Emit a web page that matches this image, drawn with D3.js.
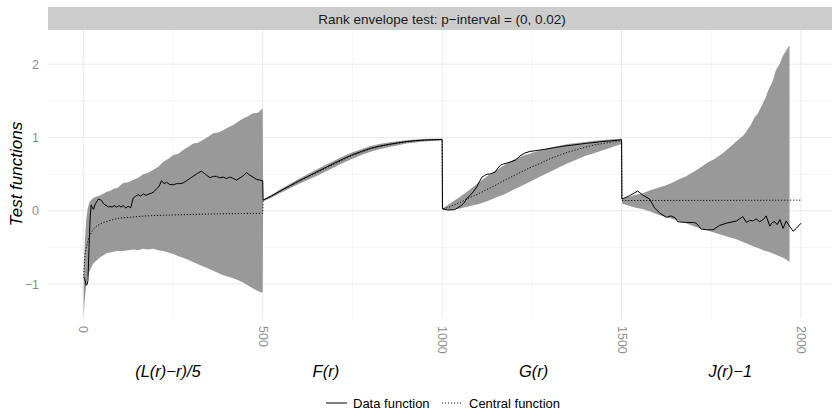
<!DOCTYPE html>
<html>
<head>
<meta charset="utf-8">
<script src="https://cdn.jsdelivr.net/npm/d3@7"></script>
<style>
  html, body { margin: 0; padding: 0; background: #ffffff; }
  svg { display: block; font-family: "Liberation Sans", Arial, Helvetica, sans-serif; }
</style>
</head>
<body>
<svg id="chart" width="832" height="409"></svg>
<script>
// ---------------- DATA ----------------
const stripTitle = "Rank envelope test: p\u2212interval = (0, 0.02)";
const yTitle = "Test functions";
const yTicks = [-1, 0, 1, 2];
const yTickLabels = ["\u22121", "0", "1", "2"];
const xTicks = [0, 500, 1000, 1500, 2000];
const xTickLabels = ["0", "500", "1000", "1500", "2000"];
const functionNames = ["(L(r)\u2212r)/5", "F(r)", "G(r)", "J(r)\u22121"];
const legendNames = ["Data function", "Central function"];

// (L(r)-r)/5 segment, r index 1..500
const lR     = [1,4,8,12,16,20,25,30,37,45,55,65,75,84,95,111,125,139,153,167,181,195,209,223,237,251,265,278,292,306,320,334,348,362,376,390,404,418,432,445,459,473,487,500];
const lUpper = [-0.88,-0.45,-0.12,0.02,0.10,0.14,0.16,0.18,0.195,0.21,0.23,0.26,0.27,0.30,0.31,0.38,0.39,0.42,0.45,0.50,0.52,0.56,0.60,0.67,0.71,0.76,0.78,0.83,0.87,0.92,0.93,0.97,1.01,1.06,1.07,1.10,1.14,1.17,1.22,1.26,1.29,1.33,1.34,1.40];
const lLower = [-1.45,-1.22,-1.02,-0.90,-0.84,-0.80,-0.74,-0.71,-0.68,-0.64,-0.61,-0.58,-0.57,-0.56,-0.55,-0.55,-0.54,-0.53,-0.54,-0.52,-0.53,-0.52,-0.54,-0.55,-0.57,-0.59,-0.62,-0.64,-0.67,-0.70,-0.73,-0.76,-0.79,-0.82,-0.85,-0.88,-0.90,-0.92,-0.95,-0.98,-1.02,-1.06,-1.10,-1.12];
const lCentral = [[1,-0.88],[3,-0.7],[6,-0.55],[11,-0.45],[16,-0.36],[22,-0.30],[28,-0.25],[40,-0.2],[55,-0.16],[70,-0.14],[84,-0.12],[100,-0.10],[139,-0.085],[176,-0.07],[230,-0.06],[300,-0.05],[400,-0.04],[500,-0.035]];
const lData = [[1,-0.9],[4,-0.93],[8,-1.02],[11,-1.0],[13,-0.95],[16,-0.5],[19,-0.1],[22,0.08],[26,0.03],[29,0.02],[32,0.08],[37,0.12],[42,0.16],[47,0.15],[51,0.14],[56,0.1],[60,0.08],[66,0.07],[70,0.05],[74,0.06],[80,0.05],[86,0.07],[93,0.05],[100,0.07],[105,0.05],[111,0.07],[118,0.04],[125,0.06],[132,0.04],[139,0.17],[146,0.2],[153,0.22],[160,0.2],[167,0.23],[175,0.21],[183,0.23],[190,0.24],[197,0.26],[204,0.30],[211,0.33],[218,0.41],[225,0.37],[232,0.39],[240,0.36],[251,0.355],[260,0.37],[269,0.37],[278,0.38],[288,0.41],[297,0.44],[306,0.47],[318,0.51],[329,0.54],[340,0.5],[353,0.45],[362,0.47],[371,0.47],[380,0.45],[390,0.46],[399,0.44],[408,0.46],[418,0.44],[427,0.42],[437,0.45],[446,0.48],[455,0.52],[463,0.49],[473,0.46],[482,0.43],[491,0.42],[500,0.41]];

// F(r) segment, r index 501..1000
const fR       = [501,525,550,575,600,625,650,675,700,725,750,775,800,825,850,875,900,925,950,975,1000];
const fCentral = [0.14,0.20,0.27,0.335,0.40,0.46,0.52,0.58,0.64,0.70,0.755,0.80,0.845,0.875,0.90,0.92,0.94,0.953,0.963,0.968,0.972];
const fUpper   = [0.15,0.22,0.295,0.365,0.435,0.50,0.565,0.625,0.685,0.745,0.80,0.84,0.885,0.91,0.933,0.948,0.962,0.974,0.979,0.983,0.984];
const fLower   = [0.13,0.18,0.245,0.305,0.365,0.42,0.475,0.535,0.595,0.655,0.71,0.76,0.805,0.84,0.867,0.892,0.918,0.932,0.946,0.952,0.958];
const fData    = [0.145,0.205,0.275,0.34,0.405,0.468,0.528,0.59,0.65,0.71,0.765,0.81,0.853,0.882,0.906,0.926,0.945,0.957,0.966,0.971,0.975];

// G(r) segment, r index 1001..1500
const gR       = [1001,1025,1050,1075,1100,1125,1150,1175,1200,1225,1250,1275,1300,1325,1350,1375,1400,1425,1450,1475,1500];
const gCentral = [0.02,0.06,0.115,0.175,0.23,0.29,0.35,0.42,0.48,0.54,0.60,0.65,0.71,0.755,0.80,0.835,0.87,0.90,0.92,0.94,0.955];
const gUpper   = [0.03,0.11,0.19,0.28,0.38,0.47,0.55,0.63,0.70,0.75,0.79,0.83,0.86,0.885,0.91,0.925,0.94,0.955,0.965,0.975,0.985];
const gLower   = [0.01,0.015,0.03,0.06,0.09,0.13,0.18,0.23,0.29,0.35,0.41,0.47,0.53,0.59,0.65,0.70,0.75,0.79,0.83,0.87,0.91];
const gData = [[1001,0.03],[1015,0.01],[1035,0.015],[1050,0.06],[1060,0.10],[1069,0.17],[1078,0.21],[1087,0.26],[1097,0.33],[1104,0.40],[1111,0.46],[1118,0.48],[1125,0.50],[1132,0.50],[1138,0.51],[1148,0.53],[1155,0.58],[1162,0.62],[1171,0.64],[1180,0.65],[1192,0.67],[1204,0.69],[1217,0.75],[1231,0.79],[1245,0.81],[1259,0.82],[1273,0.83],[1287,0.84],[1310,0.86],[1334,0.88],[1360,0.895],[1385,0.91],[1399,0.92],[1420,0.93],[1445,0.945],[1470,0.955],[1500,0.97]];

// J(r)-1 segment, r index 1501..2000 (envelope available up to ~1968)
const jR     = [1501,1520,1540,1560,1580,1600,1620,1640,1660,1680,1700,1720,1740,1760,1780,1800,1820,1840,1850,1860,1870,1880,1890,1900,1910,1920,1930,1940,1950,1960,1968];
const jUpper = [0.16,0.19,0.22,0.24,0.28,0.31,0.34,0.38,0.43,0.47,0.53,0.59,0.66,0.71,0.78,0.86,0.95,1.03,1.10,1.17,1.27,1.33,1.43,1.53,1.66,1.76,1.92,2.00,2.12,2.20,2.26];
const jLower = [0.10,0.07,0.04,0.02,-0.01,-0.05,-0.08,-0.11,-0.14,-0.17,-0.21,-0.24,-0.27,-0.30,-0.33,-0.36,-0.39,-0.43,-0.45,-0.47,-0.49,-0.51,-0.53,-0.55,-0.56,-0.58,-0.60,-0.62,-0.64,-0.67,-0.70];
const jCentral = [[1501,0.14],[1750,0.142],[2000,0.145]];
const jData = [[1501,0.16],[1520,0.20],[1545,0.27],[1560,0.21],[1578,0.16],[1592,0.04],[1606,-0.03],[1625,-0.09],[1638,-0.07],[1650,-0.10],[1657,-0.15],[1680,-0.16],[1700,-0.16],[1708,-0.17],[1722,-0.25],[1740,-0.26],[1755,-0.26],[1773,-0.20],[1792,-0.17],[1810,-0.15],[1820,-0.14],[1829,-0.11],[1838,-0.08],[1848,-0.16],[1857,-0.13],[1866,-0.14],[1875,-0.11],[1885,-0.15],[1895,-0.12],[1903,-0.07],[1913,-0.21],[1920,-0.16],[1927,-0.15],[1934,-0.19],[1941,-0.12],[1950,-0.24],[1959,-0.14],[1968,-0.21],[1978,-0.28],[1987,-0.24],[2000,-0.17]];

// ---------------- BUILD ----------------
const envelope = [];
[[lR,lLower,lUpper],[fR,fLower,fUpper],[gR,gLower,gUpper],[jR,jLower,jUpper]].forEach(([r,lo,hi]) => {
  r.forEach((v,i) => envelope.push({r: v, lo: lo[i], hi: hi[i]}));
});
const dataLine = [].concat(lData, fR.map((v,i)=>[v,fData[i]]), gData, jData);
const centralLine = [].concat(lCentral, fR.map((v,i)=>[v,fCentral[i]]), gR.map((v,i)=>[v,gCentral[i]]), jCentral);

const svg = d3.select("#chart");
const panel = {left: 48, right: 832, top: 30, bottom: 319};

const x = d3.scaleLinear().domain([0, 2000]).range([83.3, 801]);
const y = d3.scaleLinear().domain([-1, 2]).range([284, 64.3]);

// strip
svg.append("rect").attr("x", panel.left).attr("y", 7).attr("width", panel.right - panel.left).attr("height", 23).attr("fill", "#cccccc");
svg.append("text").attr("x", 442).attr("y", 23.5).attr("text-anchor", "middle")
  .attr("font-size", 13.5).attr("fill", "#1a1a1a").text(stripTitle);

// grid
const g = svg.append("g");
const yMinor = [-0.5, 0.5, 1.5];
const xMinor = [250, 750, 1250, 1750];
g.selectAll(".ymin").data(yMinor).enter().append("line")
  .attr("x1", panel.left).attr("x2", panel.right).attr("y1", d => y(d)).attr("y2", d => y(d))
  .attr("stroke", "#f0f0f0").attr("stroke-width", 0.7);
g.selectAll(".xmin").data(xMinor).enter().append("line")
  .attr("y1", panel.top).attr("y2", panel.bottom).attr("x1", d => x(d)).attr("x2", d => x(d))
  .attr("stroke", "#f0f0f0").attr("stroke-width", 0.7);
g.selectAll(".ymaj").data(yTicks).enter().append("line")
  .attr("x1", panel.left).attr("x2", panel.right).attr("y1", d => y(d)).attr("y2", d => y(d))
  .attr("stroke", "#ebebeb").attr("stroke-width", 1.1);
g.selectAll(".xmaj").data(xTicks).enter().append("line")
  .attr("y1", panel.top).attr("y2", panel.bottom).attr("x1", d => x(d)).attr("x2", d => x(d))
  .attr("stroke", "#ebebeb").attr("stroke-width", 1.1);

// envelope
const area = d3.area().x(d => x(d.r)).y0(d => y(d.lo)).y1(d => y(d.hi));
svg.append("path").datum(envelope).attr("d", area).attr("fill", "#999999").attr("stroke", "none");

// lines
const line = d3.line().x(d => x(d[0])).y(d => y(d[1]));
svg.append("path").datum(centralLine).attr("d", line).attr("fill", "none")
  .attr("stroke", "#000").attr("stroke-width", 0.9).attr("stroke-dasharray", "1.2,1.8");
svg.append("path").datum(dataLine).attr("d", line).attr("fill", "none")
  .attr("stroke", "#000").attr("stroke-width", 1);

// y axis
const yAxis = d3.axisLeft(y).tickValues(yTicks).tickSize(0).tickPadding(0)
  .tickFormat((d,i) => yTickLabels[i]);
const ya = svg.append("g").attr("transform", `translate(${panel.left - 9},0)`).call(yAxis);
ya.select(".domain").remove();
ya.selectAll("text").attr("font-size", 12.5).attr("fill", "#8c8c8c")
  .attr("font-family", "'Liberation Sans', Arial, sans-serif");

// x axis (rotated labels)
const xAxis = d3.axisBottom(x).tickValues(xTicks).tickSize(0).tickPadding(0)
  .tickFormat((d,i) => xTickLabels[i]);
const xa = svg.append("g").attr("transform", `translate(0,${panel.bottom + 7})`).call(xAxis);
xa.select(".domain").remove();
xa.selectAll("text").attr("font-size", 12.5).attr("fill", "#8c8c8c")
  .attr("font-family", "'Liberation Sans', Arial, sans-serif")
  .attr("transform", "rotate(90)").attr("text-anchor", "start").attr("dy", "0.35em").attr("y", 0).attr("x", 0);

// y title
svg.append("text").attr("transform", "translate(22,174) rotate(-90)").attr("text-anchor", "middle")
  .attr("font-size", 17).attr("font-style", "italic").attr("fill", "#000").text(yTitle);

// function names under axis
const nameCenters = [236, 676, 1255, 1803];
svg.selectAll(".fname").data(functionNames).enter().append("text")
  .attr("x", (d,i) => x(nameCenters[i])).attr("y", 377).attr("text-anchor", "middle")
  .attr("font-size", 16.5).attr("font-style", "italic").attr("fill", "#000").text(d => d);

// legend
const lg = svg.append("g");
lg.append("line").attr("x1", 326).attr("x2", 347).attr("y1", 403).attr("y2", 403).attr("stroke", "#000").attr("stroke-width", 1);
lg.append("text").attr("x", 353).attr("y", 407.5).attr("font-size", 13).attr("fill", "#000").text(legendNames[0]);
lg.append("line").attr("x1", 442).attr("x2", 463).attr("y1", 403).attr("y2", 403).attr("stroke", "#000").attr("stroke-width", 0.9).attr("stroke-dasharray", "1.2,1.8");
lg.append("text").attr("x", 469).attr("y", 407.5).attr("font-size", 13).attr("fill", "#000").text(legendNames[1]);
</script>
</body>
</html>
